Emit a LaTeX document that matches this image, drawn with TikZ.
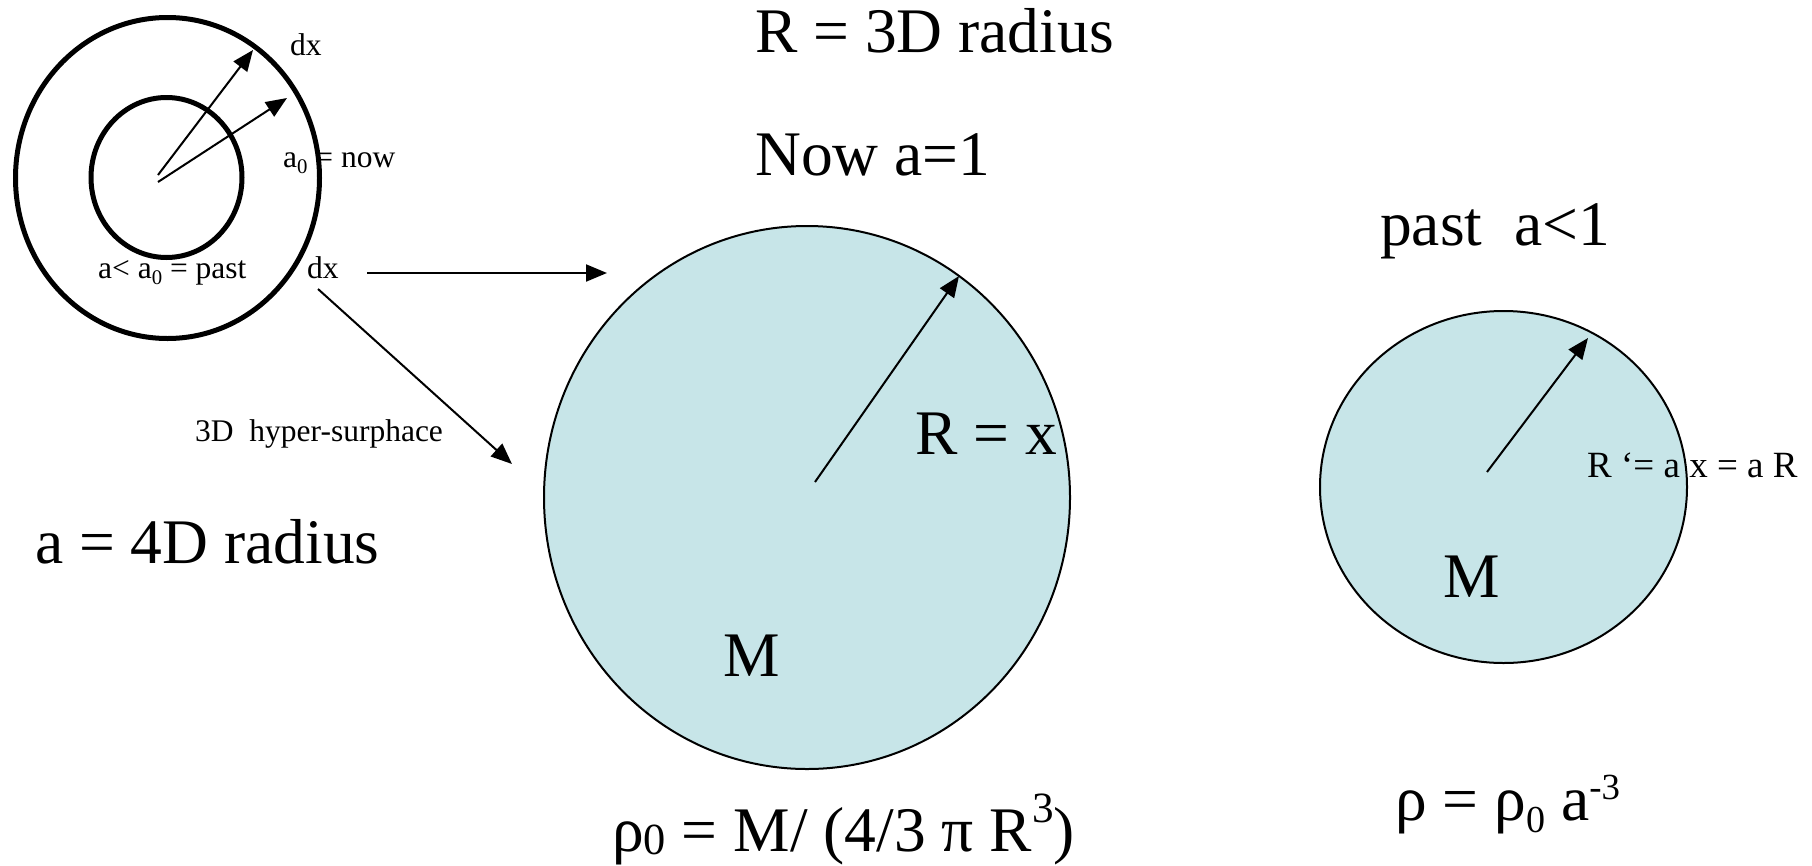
\documentclass[tikz,border=0pt]{standalone}
\usepackage{fontspec}
\setmainfont{Liberation Serif}
\usetikzlibrary{arrows.meta,shapes.geometric}
\definecolor{sphere}{RGB}{199,229,232}
\newcommand{\lo}[1]{\raisebox{-0.22em}{\scalebox{0.66}{#1}}}
\newcommand{\rlo}[1]{\raisebox{-0.19em}{\scalebox{0.6}{#1}}}
\newcommand{\blo}[1]{\raisebox{-0.06em}{\scalebox{0.7}{#1}}}
\newcommand{\bhi}[1]{\raisebox{0.45em}{\scalebox{0.68}{#1}}}
\newcommand{\rhi}[1]{\raisebox{0.32em}{\scalebox{0.58}{#1}}}
\begin{document}
\begin{tikzpicture}[x=1pt,y=-1pt,
  big/.style={font=\fontsize{63.5}{70}\selectfont, inner sep=0pt, anchor=base west},
  small/.style={font=\fontsize{31.5}{36}\selectfont, inner sep=0pt, anchor=base west},
  mid/.style={font=\fontsize{37}{40}\selectfont, inner sep=0pt, anchor=base west},
  ring/.style={ellipse, draw, line width=5pt, inner sep=0pt},
  ball/.style={ellipse, draw, line width=2pt, fill=sphere, inner sep=0pt},
  arr/.style={line width=2pt, -{Triangle[length=21pt,width=17pt]}}]
\useasboundingbox (0,0) rectangle (1812,865);

% top-left rings
\node[ring, minimum width=304pt, minimum height=321pt] (outer) at (167.5,178) {};
\node[ring, minimum width=151pt, minimum height=160pt] (inner) at (166.5,177.5) {};
\coordinate (o1) at (158,175);
\coordinate (o2) at (158,182);
\coordinate (t1) at (253,50);
\coordinate (t2) at (287,98);
\draw[arr] (o1) -- (t1);
\draw[arr] (o2) -- (t2);
\node[small] (dxtop) at (290,55) {dx};
\node[small] (now) at (283,167) {a\lo{0} = now};
\node[small] (pastlbl) at (98,278) {a< a\lo{0} = past};
\node[small] (dxbot) at (307,278) {dx};
\node[small] (hyper) at (195,441) {3D\ \ hyper-surphace};

% arrows to big sphere
\coordinate (h1) at (367,273);
\coordinate (h2) at (607,273);
\coordinate (d1) at (318,289);
\coordinate (d2) at (512,464);
\draw[arr] (h1) -- (h2);
\draw[arr] (d1) -- (d2);

% big sphere
\node[ball, minimum width=526pt, minimum height=543pt] (bigc) at (807,497.5) {};
\coordinate (bs) at (815,482);
\coordinate (be) at (959,276);
\draw[arr] (bs) -- (be);
\node[big] (rx) at (915,454) {R = x};
\node[big] (mbig) at (723,676) {M};

% small sphere
\node[ball, minimum width=367pt, minimum height=352pt] (smallc) at (1503.5,487) {};
\coordinate (ss) at (1487,472);
\coordinate (se) at (1588,338);
\draw[arr] (ss) -- (se);
\node[mid] (rprime) at (1587,477) {R ‘= a x = a R};
\node[big] (msmall) at (1443,597) {M};

% titles
\node[big] (title3d) at (755,52) {R = 3D radius};
\node[big] (nowa) at (755,175) {Now a=1};
\node[big] (pasta) at (1380,245) {past\ \ a<1};
\node[big] (a4d) at (35,563) {a = 4D radius};
\node[big] (rho0) at (612,851) {ρ\blo{0} = M/ (4/3 π R\bhi{3})};
\node[big] (rho) at (1395,820) {ρ = ρ\rlo{0} a\rhi{-3}};
\end{tikzpicture}
\end{document}
